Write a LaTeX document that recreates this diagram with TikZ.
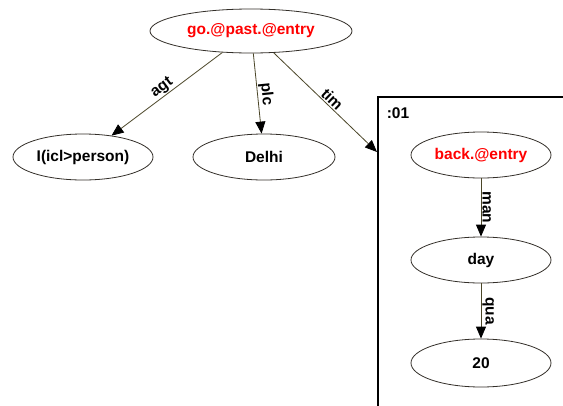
\documentclass[tikz,border=0pt]{standalone}
\usepackage{fontspec}
\setmainfont{Liberation Sans}
\usetikzlibrary{shapes.geometric,arrows.meta}
\definecolor{edgecol}{RGB}{75,70,40}
\definecolor{uwred}{RGB}{255,0,0}
\begin{document}
\begin{tikzpicture}[x=1pt,y=-1pt,
  every node/.style={font=\fontsize{15.5}{18}\selectfont\bfseries},
  uw/.style={ellipse,draw=black!85!olive,line width=0.8pt,inner sep=0pt,minimum width=140pt,minimum height=46pt},
  rel/.style={draw=edgecol,line width=0.8pt,-{Triangle[length=12pt,width=10pt,fill=black,color=black]}},
  rlab/.style={sloped,above,inner sep=1pt,text=black}]
\useasboundingbox (0,0) rectangle (563,405);
\fill[white] (0,0) rectangle (563,405);
% scope frame
\draw[line width=1.8pt,black] (378,420) -- (378,97) -- (590,97);
\node[anchor=center] (scopelab) at (398,113) {:01};
\coordinate (timend) at (377,152);
% nodes
\node[uw,minimum width=202pt,minimum height=44pt,text=uwred] (go) at (251,31) {go.@past.@entry};
\node[uw] (icl) at (83,157) {I(icl>person)};
\node[uw,minimum width=142pt] (delhi) at (264,157) {Delhi};
\node[uw,text=uwred] (back) at (481,155) {back.@entry};
\node[uw] (day) at (481,260) {day};
\node[uw,minimum height=48pt] (twenty) at (481,363) {20};
% relations
\draw[rel] (go) -- node[rlab,pos=0.5] {agt} (icl);
\draw[rel] (go) -- node[rlab,pos=0.52] {plc} (delhi);
\draw[rel] (go) -- node[rlab,pos=0.52] {tim} (timend);
\draw[rel] (back) -- node[rlab,pos=0.5] {man} (day);
\draw[rel] (day) -- node[rlab,pos=0.5] {qua} (twenty);
\end{tikzpicture}
\end{document}
